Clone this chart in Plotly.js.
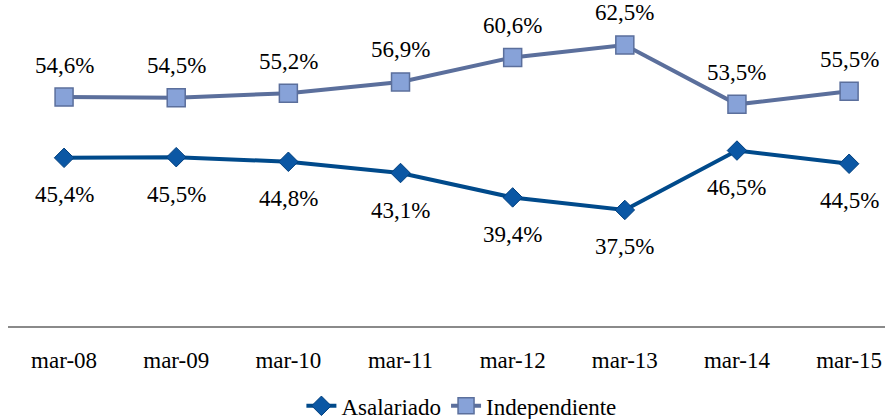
<!DOCTYPE html>
<html>
<head>
<meta charset="utf-8">
<script src="https://cdn.plot.ly/plotly-3.0.1.min.js"></script>
<style>
html,body{margin:0;padding:0;background:#fff;}
#chart{width:885px;height:419px;}
#chart svg text{font-family:"Liberation Serif","Times New Roman",serif !important;}
</style>
</head>
<body>
<div id="chart"></div>
<script>
const categories = ["mar-08","mar-09","mar-10","mar-11","mar-12","mar-13","mar-14","mar-15"];
const asalariado = [45.4, 45.5, 44.8, 43.1, 39.4, 37.5, 46.5, 44.5];
const independiente = [54.6, 54.5, 55.2, 56.9, 60.6, 62.5, 53.5, 55.5];
const seriesNames = ["Asalariado", "Independiente"];

const FONT = "Times New Roman";
const TXT = '#000';
const fmt = v => v.toFixed(1).replace('.', ',') + '%';

const traces = [
  {
    x: categories, y: asalariado, name: seriesNames[0], type: 'scatter', mode: 'lines+markers',
    line: {color: '#004A8B', width: 4},
    marker: {symbol: 'diamond', size: 15, color: '#0B57A4', line: {color: '#02407E', width: 1}}
  },
  {
    x: categories, y: independiente, name: seriesNames[1], type: 'scatter', mode: 'lines+markers',
    line: {color: '#5B6F9C', width: 4},
    marker: {symbol: 'square', size: 18, color: '#87A2D8', line: {color: '#5B6F9C', width: 1.5}}
  }
];

const annotations = [];
categories.forEach((c, i) => {
  annotations.push({x: c, y: independiente[i], text: fmt(independiente[i]), showarrow: false,
    yshift: 32, font: {family: FONT, size: 23, color: TXT}});
  annotations.push({x: c, y: asalariado[i], text: fmt(asalariado[i]), showarrow: false,
    yshift: -37, font: {family: FONT, size: 23, color: TXT}});
});

const layout = {
  width: 885, height: 419,
  margin: {l: 8, r: 0, t: 0, b: 93, autoexpand: false},
  paper_bgcolor: '#fff', plot_bgcolor: '#fff',
  font: {family: FONT, size: 23, color: TXT},
  xaxis: {
    type: 'category', range: [-0.5, 7.32], showgrid: false, zeroline: false,
    showline: true, linecolor: '#8A8A8A', linewidth: 2,
    ticks: 'outside', ticklen: 12, tickcolor: 'rgba(0,0,0,0)',
    tickfont: {family: FONT, size: 23, color: TXT}, automargin: false
  },
  yaxis: {range: [19.92, 69.31], visible: false, showgrid: false, zeroline: false},
  showlegend: true,
  legend: {orientation: 'h', x: 0.517, xanchor: 'center', y: -0.245, yanchor: 'middle',
    font: {family: FONT, size: 23, color: TXT}, itemwidth: 30, tracegroupgap: 0},
  annotations: annotations
};

Plotly.newPlot('chart', traces, layout, {displayModeBar: false, staticPlot: true}).then(() => {
  document.querySelectorAll('#chart svg text').forEach(t => {
    t.style.setProperty('font-family', '"Liberation Serif", "Times New Roman", serif', 'important');
    t.setAttribute('font-family', 'Liberation Serif');
  });
});
</script>
</body>
</html>
